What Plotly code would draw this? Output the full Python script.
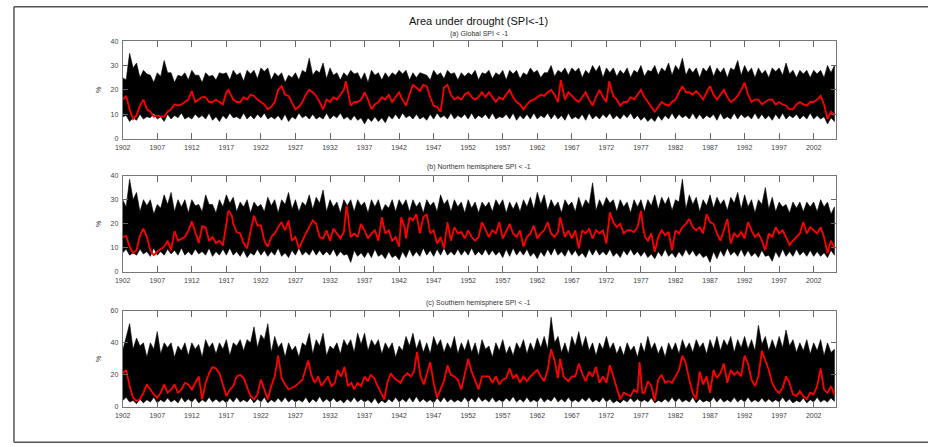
import plotly.graph_objects as go

# ---------------- data ----------------
YEARS = list(range(1902, 2006))                    # yearly extremes of the ensemble
HALF_YEARS = [y + 0.5 for y in range(1902, 2005)]  # envelope between the yearly extremes
XTICKS = list(range(1902, 2003, 5))

# Panel (a) global
upper_a = [25, 35, 31, 28, 26, 27, 32, 27, 26, 27,
           28, 26, 27, 26, 27, 27, 28, 27, 28, 28,
           29, 29, 27, 27, 26, 27, 28, 33, 28, 31,
           29, 27, 27, 28, 27, 27, 28, 27, 27, 27,
           28, 28, 27, 27, 26, 28, 27, 28, 27, 27,
           27, 28, 27, 28, 27, 28, 28, 28, 27, 29,
           28, 27, 30, 28, 29, 29, 29, 28, 30, 30,
           29, 29, 28, 29, 28, 30, 28, 30, 29, 31,
           30, 33, 29, 29, 29, 30, 29, 29, 29, 32,
           30, 29, 29, 28, 29, 29, 31, 28, 28, 28,
           28, 28, 30, 30]
upper_mid_a = [24, 29, 25, 26.5, 23, 25.5, 27, 23, 25.5, 24,
               26, 23, 25.5, 24, 26.5, 24, 26, 23.5, 26.5, 24.5,
               27.5, 24, 25.5, 23, 25, 24, 27, 26, 27, 24.5,
               26, 24, 25.5, 26.5, 24, 23, 26, 24, 25, 26,
               26.5, 24, 25, 26.5, 24, 26, 24.5, 26.5, 24, 25.5,
               26, 24, 26.5, 24.5, 26, 24, 26.5, 24.5, 26, 27,
               25, 27, 25.5, 27, 26, 27.5, 25, 26.5, 27.5, 25,
               27, 25.5, 26.5, 25, 27, 25.5, 27.5, 26, 27.5, 26,
               28, 26, 27, 25, 27.5, 25.5, 27, 25, 28, 26,
               27, 25, 26.5, 25, 27.5, 26, 26.5, 25, 26.5, 25,
               26.5, 25, 27]
lower_mid_a = [9.5, 8.5, 10, 9, 10.5, 9, 10, 9.5, 10.5, 9,
               10, 9.5, 10.5, 9, 9.5, 10.5, 9, 10.5, 9.5, 10,
               10.5, 9, 9.5, 10, 9, 10.5, 9.5, 10, 9, 10.5,
               9.5, 10.5, 9, 9.5, 8.5, 8.5, 9, 8.5, 9.5, 10,
               10.5, 9.5, 10, 9, 10, 10.5, 9.5, 10.5, 9.5, 10,
               10.5, 9.5, 10, 10.5, 9, 10, 10.5, 9.5, 10, 10.5,
               9.5, 10.5, 10, 9.5, 10.5, 9, 10, 10.5, 9.5, 10,
               10.5, 9.5, 10, 10.5, 9.5, 9, 8.5, 9.5, 9.5, 10.5,
               10, 9.5, 10.5, 10, 9.5, 10, 10.5, 9, 10.5, 10,
               9.5, 10.5, 10, 9.5, 10, 10.5, 9.5, 10, 9.5, 10.5,
               9.5, 9, 8.5]
lower_a = [9, 7, 7.5, 8, 8.5, 8, 7, 8, 8.5, 8,
           8, 8.5, 8, 7.5, 7, 8, 8.5, 8, 8, 8,
           8.5, 8, 8, 7.5, 7, 8, 8.5, 8, 8, 8,
           8, 8.5, 8, 7.5, 7.5, 6, 7, 7, 6.5, 8,
           8, 8.5, 8, 8, 7.5, 8, 8.5, 8, 8, 8.5,
           8, 8, 8.5, 8, 8, 8.5, 8, 7.5, 8, 8,
           8, 8.5, 8, 8, 7.5, 8, 8, 7.5, 8, 8,
           8.5, 8, 8, 8.5, 8, 7.5, 7, 7, 7.5, 8,
           8, 8.5, 8, 8, 8, 8.5, 7.5, 8, 8, 8,
           8.5, 8, 8, 8, 7.5, 8, 8, 8.5, 8, 8,
           8, 8, 6, 7]
red_a_x = [1902, 1902.5, 1903, 1903.5, 1904, 1904.5, 1905, 1905.5, 1906, 1906.5,
           1907, 1907.5, 1908, 1908.5, 1909, 1909.5, 1910, 1910.5, 1911, 1911.5,
           1912, 1912.5, 1913, 1913.5, 1914, 1914.5, 1915, 1915.5, 1916, 1916.5,
           1917, 1917.3, 1918, 1918.5, 1919, 1919.5, 1920, 1920.5, 1921, 1921.5,
           1922, 1922.5, 1923, 1923.5, 1924, 1924.5, 1925, 1925.5, 1926, 1926.5,
           1927, 1927.5, 1928, 1928.5, 1929, 1929.5, 1930, 1930.5, 1931, 1931.5,
           1932, 1932.5, 1933, 1933.5, 1934, 1934.3, 1935, 1935.5, 1936, 1936.5,
           1937, 1937.5, 1938, 1938.5, 1939, 1939.5, 1940, 1940.5, 1941, 1941.5,
           1942, 1942.5, 1943, 1943.5, 1944, 1944.5, 1945, 1945.5, 1946, 1946.5,
           1947, 1947.5, 1948, 1948.5, 1949, 1949.5, 1950, 1950.5, 1951, 1951.5,
           1952, 1952.5, 1953, 1953.5, 1954, 1954.5, 1955, 1955.5, 1956, 1956.5,
           1957, 1957.5, 1958, 1958.5, 1959, 1959.5, 1960, 1960.5, 1961, 1961.5,
           1962, 1962.5, 1963, 1963.5, 1964, 1964.5, 1965, 1965.4, 1966, 1966.5,
           1967, 1967.5, 1968, 1968.5, 1969, 1969.5, 1970, 1970.5, 1971, 1971.5,
           1972, 1972.4, 1973, 1973.5, 1974, 1974.5, 1975, 1975.5, 1976, 1976.5,
           1977, 1977.5, 1978, 1978.5, 1979, 1979.5, 1980, 1980.5, 1981, 1981.5,
           1982, 1982.5, 1983, 1983.5, 1984, 1984.5, 1985, 1985.5, 1986, 1986.5,
           1987, 1987.5, 1988, 1988.5, 1989, 1989.5, 1990, 1990.5, 1991, 1991.5,
           1992, 1992.5, 1993, 1993.5, 1994, 1994.5, 1995, 1995.5, 1996, 1996.5,
           1997, 1997.5, 1998, 1998.5, 1999, 1999.5, 2000, 2000.5, 2001, 2001.5,
           2002, 2002.5, 2003, 2003.5, 2004, 2004.5, 2005]
red_a_y = [16, 17.5, 12, 8, 9.5, 13.5, 16, 12, 11, 9,
           9.5, 9, 9, 11, 12, 14, 13.5, 14, 15, 16,
           19.5, 15, 16, 17, 17, 15, 15, 16, 15, 14,
           19, 20, 16, 15, 15, 17, 16, 18, 17.5, 16,
           15, 14, 12, 13, 15, 20, 21.5, 18, 17.5, 15,
           12, 13, 15, 18, 20, 19, 17.5, 15, 12, 16,
           15, 17, 16, 18, 20, 23.5, 13.5, 15, 15, 16,
           19, 16, 12, 14, 15, 17, 16, 18, 15, 17,
           19, 16, 13.5, 18, 22, 21, 19.5, 22, 21.5, 17,
           13.5, 13, 11, 21, 22, 18, 16, 17, 16, 18,
           19, 17, 16, 17, 19, 17, 19, 17, 15, 17,
           16, 18, 20, 17, 15, 14, 12, 14, 15.5, 16,
           17, 18, 17.5, 19, 20, 18, 15, 24, 16, 19,
           17.5, 16, 15, 17, 19, 16, 13.5, 17, 20, 17,
           15, 23.5, 17.5, 16, 13.5, 15, 15, 17, 16, 18,
           20, 17, 15, 13, 11, 13, 15, 14, 13.5, 15,
           16, 19, 21.5, 19, 19, 18, 19.5, 18, 16, 19,
           21.5, 18, 16, 18, 20, 17, 15, 16, 17.5, 20,
           23, 18, 15, 16, 16, 14, 15, 16, 16, 14,
           15, 14, 13.5, 12, 12, 14, 15, 14, 13.5, 15,
           15, 16, 17.5, 14, 8, 11, 9.5]

# Panel (b) northern hemisphere
upper_b = [30, 38.5, 33, 30, 30, 28, 32, 33, 30, 30,
           30, 28, 32, 28, 30, 32, 31, 29, 30, 29,
           28, 31, 30, 30, 33, 30, 29, 32, 31, 34,
           30, 29, 30, 30, 30, 29, 30, 30, 28, 30,
           30, 30, 30, 29, 30, 29, 32, 30, 30, 29,
           30, 29, 29, 29, 30, 30, 29, 29, 30, 31,
           33, 32, 30, 29, 30, 29, 31, 30, 37, 30,
           31, 30, 30, 29, 30, 30, 30, 32, 31, 31,
           30, 38.5, 32, 31, 30, 32, 31, 30, 31, 33,
           32, 30, 30, 35, 31, 29, 28, 29, 29, 29,
           29, 30, 29, 27]
upper_mid_b = [27, 30, 25, 27.5, 24, 26.5, 28, 25, 27, 24.5,
               27.5, 25, 28, 24.5, 27, 28.5, 25, 27, 24.5, 27,
               25, 27.5, 24.5, 28, 26, 25, 27.5, 26, 28.5, 25,
               27, 24.5, 27.5, 25, 27.5, 24.5, 27, 25, 26.5, 25,
               27.5, 25, 27, 24.5, 27.5, 25, 28, 25, 27, 24.5,
               26.5, 24.5, 27, 25, 27.5, 24.5, 26, 25, 27, 26,
               28, 25.5, 27, 24.5, 27.5, 25, 26.5, 28, 25.5, 27,
               28.5, 25, 27, 24.5, 27, 25, 27.5, 26, 28, 25.5,
               29, 26, 28, 25, 27.5, 26.5, 28, 25.5, 28.5, 26,
               27, 24.5, 28, 26, 25, 27, 24.5, 26.5, 25, 27,
               25, 27, 24]
lower_mid_b = [9.5, 8, 9.5, 8.5, 10, 8.5, 9.5, 9, 10, 8.5,
               9.5, 8.5, 10, 8.5, 9.5, 10, 8.5, 9, 8, 9.5,
               9, 8.5, 10, 8, 9, 10, 8.5, 9.5, 9, 8.5,
               9.5, 8.5, 7.5, 9, 8, 8.5, 9.5, 7.5, 8.5, 7,
               8.5, 9.5, 8.5, 10, 9, 9.5, 10, 8.5, 9.5, 9,
               10, 8.5, 9.5, 9, 8.5, 9.5, 10, 9, 9.5, 8,
               8.5, 9.5, 10, 8.5, 9.5, 9, 8, 9.5, 9.5, 8.5,
               9.5, 8, 9, 9.5, 8.5, 8.5, 7.5, 8.5, 9.5, 8,
               8.5, 9.5, 9, 8, 7, 8.5, 9, 10, 8.5, 9.5,
               9, 8, 9, 7, 8.5, 9.5, 8.5, 9.5, 8.5, 9,
               8.5, 8, 9]
lower_b = [8, 7, 7, 7.5, 6.5, 7, 7, 7.5, 7, 7,
           7, 7.5, 7, 6.5, 7, 7, 7, 6.5, 6, 7,
           7, 6.5, 7, 6.5, 6, 7, 7, 7, 7, 7,
           7, 6.5, 7, 4, 6.5, 6, 6, 6.5, 5.5, 6,
           5, 6, 6.5, 6.5, 7, 6.5, 7, 7, 7, 7,
           7, 7, 7, 7, 7, 6, 6.5, 7, 7, 6.5,
           5.5, 6.5, 7, 7, 6.5, 7, 6.5, 6, 7, 7,
           7, 6.5, 6, 7, 7, 6.5, 6, 5.5, 6.5, 6.5,
           6, 6.5, 7, 6.5, 6, 4, 5.5, 6.5, 7, 6.5,
           6.5, 6.5, 6, 6.5, 4.5, 6, 6.5, 6.5, 7, 6.5,
           6.5, 6.5, 6, 7]
red_b_x = [1902, 1902.5, 1903, 1903.5, 1904, 1904.5, 1905, 1905.5, 1906, 1906.5,
           1907, 1908, 1908.5, 1909, 1909.5, 1910, 1911, 1911.5, 1912, 1912.5,
           1913, 1913.5, 1914, 1914.5, 1915, 1915.5, 1916, 1916.5, 1917, 1917.3,
           1917.8, 1918, 1918.5, 1919, 1919.5, 1920, 1920.5, 1921, 1921.5, 1922,
           1922.5, 1923, 1923.5, 1924, 1924.5, 1925, 1925.5, 1926, 1926.5, 1927,
           1927.5, 1928, 1928.5, 1929, 1929.5, 1930, 1930.5, 1931, 1931.5, 1932,
           1932.5, 1933, 1933.5, 1934, 1934.4, 1935, 1935.5, 1936, 1936.5, 1937,
           1937.5, 1938, 1938.5, 1939, 1939.5, 1940, 1940.5, 1941, 1941.5, 1942,
           1942.3, 1942.8, 1943, 1943.5, 1944, 1944.5, 1945, 1945.5, 1946, 1946.5,
           1947, 1947.5, 1948, 1948.5, 1949, 1949.5, 1950, 1950.5, 1951, 1951.5,
           1952, 1952.5, 1953, 1953.5, 1954, 1955, 1955.5, 1956, 1956.5, 1957,
           1957.5, 1958, 1958.5, 1959, 1959.5, 1960, 1960.5, 1961, 1961.5, 1962,
           1962.5, 1963, 1963.5, 1964, 1964.5, 1965, 1965.3, 1966, 1966.5, 1967,
           1967.5, 1968, 1968.5, 1969, 1969.5, 1970, 1970.5, 1971, 1971.5, 1972,
           1972.5, 1973, 1973.5, 1974, 1974.5, 1975, 1975.5, 1976, 1976.5, 1977,
           1977.3, 1977.6, 1978, 1978.5, 1979, 1979.5, 1980, 1980.5, 1981, 1981.5,
           1982, 1982.5, 1983, 1983.5, 1984, 1984.5, 1985, 1985.5, 1986, 1986.5,
           1987, 1987.5, 1988, 1988.5, 1989, 1989.5, 1990, 1990.5, 1991, 1991.5,
           1992, 1992.5, 1993, 1993.5, 1994, 1994.5, 1995, 1995.5, 1996, 1996.5,
           1997, 1997.5, 1998, 1998.5, 1999, 1999.5, 2000, 2000.5, 2001, 2001.5,
           2002, 2002.5, 2003, 2003.5, 2004, 2004.5, 2005]
red_b_y = [14.5, 15, 10.5, 7.8, 9, 15, 18, 14.5, 9, 7,
           8.5, 10.5, 13, 9, 17, 13, 14.5, 17, 21, 16,
           12, 19, 18.5, 13, 14.5, 12, 13, 11, 20, 25.5,
           23.4, 20, 16.6, 16, 12, 9.8, 17, 23.4, 19.3, 19.3,
           13, 10.5, 14.5, 16, 18.6, 20.7, 17.3, 21.4, 13, 14.5,
           9.8, 13, 16, 18.6, 21.4, 20, 14.5, 13.9, 17.3, 13,
           18, 16, 13.9, 16.6, 27.5, 14.5, 16, 14.5, 20, 17.3,
           13.9, 16, 17.3, 13, 22.7, 16, 17.3, 13, 14.5, 10.5,
           22.7, 18.6, 13.9, 22.7, 21.4, 24, 16, 22.7, 24, 16,
           17.3, 11.8, 14.5, 9.8, 20.7, 13, 18.6, 16, 16.6, 13.9,
           17.3, 14.5, 13, 14.5, 20.7, 14.5, 17.3, 16, 20.7, 13.9,
           17.3, 20, 16, 14.5, 17.3, 10.5, 14.5, 16, 19.3, 13.9,
           16, 17.3, 20.7, 16, 14.5, 16.6, 22.7, 14.5, 17.3, 13.9,
           17.3, 9.8, 17.3, 16, 18, 13.9, 17.3, 16, 17.3, 11.8,
           24.8, 20.7, 18.6, 20, 16, 17.3, 17.3, 16.6, 18.6, 25.4,
           18.6, 14.5, 13, 16, 8.4, 14.5, 17.3, 15.2, 16.6, 9.1,
           17.3, 16, 18.6, 20, 22, 18.6, 17.3, 18.6, 16, 24,
           20.7, 20, 16, 13, 17.3, 22, 11.8, 16, 14.5, 16.6,
           13.9, 20.7, 17.3, 14.5, 16, 13, 9.1, 16, 14.5, 18.6,
           16, 17.3, 14.5, 11.2, 13, 14.5, 16, 20.7, 16, 18.6,
           17.3, 16, 18.6, 14.5, 7.8, 13, 9.8]

# Panel (c) southern hemisphere
upper_c = [35, 52, 43, 40, 40, 47, 40, 40, 38, 40,
           40, 39, 42, 40, 40, 42, 40, 42, 42, 50,
           45, 52, 44, 40, 40, 38, 40, 46, 42, 46,
           38, 40, 42, 42, 46, 46, 42, 42, 40, 40,
           38, 44, 46, 42, 40, 44, 42, 40, 44, 40,
           42, 40, 42, 38, 40, 42, 38, 40, 42, 40,
           43, 44, 56, 44, 40, 44, 47, 44, 40, 40,
           44, 40, 38, 40, 38, 40, 44, 40, 38, 40,
           40, 42, 40, 42, 40, 42, 44, 42, 44, 42,
           44, 42, 51, 44, 42, 44, 48, 42, 40, 42,
           40, 42, 40, 36]
upper_mid_c = [44, 36, 38, 31, 36, 33, 37, 31, 35, 32,
               36, 31, 37, 33, 36, 32, 38, 35, 40, 37,
               42, 34, 37, 31, 35, 31, 38, 33, 38, 32,
               36, 33, 38, 34, 39, 35, 38, 33, 36, 31,
               35, 38, 36, 34, 33, 38, 34, 36, 33, 35,
               34, 32, 36, 31, 35, 33, 32, 36, 33, 35,
               37, 36, 40, 34, 33, 38, 37, 35, 32, 36,
               36, 33, 32, 35, 31, 34, 36, 33, 31, 35,
               33, 36, 34, 37, 33, 36, 35, 38, 34, 37,
               36, 35, 39, 35, 36, 37, 38, 34, 35, 33,
               35, 32, 34]
lower_mid_c = [6, 4, 5, 4.5, 6, 4.5, 5.5, 4.5, 6, 5,
               5.5, 4.5, 6, 5, 4.5, 5.5, 6, 4.5, 5.5, 5,
               6, 4.5, 5.5, 6, 5, 4.5, 6, 5, 6.5, 5,
               5.5, 4.5, 5, 6, 5, 4.5, 5.5, 4, 5, 6,
               5, 6, 6.5, 5, 4.5, 5.5, 6, 5, 4.5, 6,
               5.5, 6.5, 5, 6, 4.5, 5.5, 6.5, 5, 6, 4.5,
               6, 5, 6.5, 5, 6, 4.5, 5.5, 6, 4.5, 6,
               5, 4, 4.5, 5.5, 5, 4.5, 5.5, 4, 5, 6,
               5.5, 4.5, 6, 5, 4, 6, 5.5, 4.5, 6, 5,
               6, 4.5, 5.5, 5, 4.5, 6, 5, 4, 5.5, 4.5,
               6, 4.5, 5.5]
lower_c = [4, 3, 2, 2.5, 3, 2.5, 3, 3, 2.5, 3,
           3, 2.5, 3, 3, 3, 2.5, 3, 3, 3, 2.5,
           3, 2.5, 3, 3, 3, 3, 3, 2.5, 3, 3,
           3, 3, 2.5, 3, 3, 3, 2.5, 2, 2.5, 3,
           3, 3, 3, 3, 3, 2.5, 3, 3, 3, 3,
           3, 3, 3.5, 3, 3, 3, 3.5, 3, 3, 3,
           3, 3, 3.5, 3, 3, 3, 3, 3.5, 3, 3,
           3, 2.5, 2.5, 3, 3, 3, 3, 2.5, 3, 3,
           3, 3, 3, 2.5, 3, 3, 3, 3, 3, 3,
           3, 3, 3, 3, 3, 3, 3, 2.5, 3, 2.5,
           3, 3, 3, 3.5]
red_c_x = [1902, 1902.5, 1903, 1903.5, 1904, 1904.5, 1905, 1905.5, 1906, 1906.5,
           1907, 1907.5, 1908, 1908.5, 1909, 1909.5, 1910, 1910.5, 1911, 1911.5,
           1912, 1912.5, 1913, 1913.5, 1914, 1914.5, 1915, 1915.5, 1916, 1916.5,
           1917, 1917.5, 1918, 1918.5, 1919, 1919.5, 1920, 1920.5, 1921, 1921.5,
           1922, 1922.5, 1923, 1923.5, 1924, 1924.5, 1925, 1925.5, 1926, 1927,
           1928, 1928.85, 1929.3, 1929.8, 1930.3, 1930.75, 1931.2, 1931.7, 1932.2, 1932.7,
           1933.1, 1933.6, 1934.1, 1934.6, 1935.1, 1935.5, 1936, 1936.5, 1937, 1937.45,
           1937.9, 1938.4, 1938.9, 1939.4, 1939.85, 1940.3, 1940.8, 1941.3, 1941.8, 1942.2,
           1942.7, 1943.2, 1943.7, 1944.15, 1944.6, 1945.1, 1945.6, 1946.1, 1946.5, 1947,
           1947.5, 1948, 1948.5, 1949, 1949.5, 1950, 1950.5, 1951, 1951.5, 1952,
           1952.5, 1953, 1953.5, 1954, 1955, 1955.5, 1956, 1956.5, 1957, 1957.5,
           1958, 1958.5, 1959, 1959.5, 1960, 1960.5, 1961, 1961.5, 1962, 1962.5,
           1963, 1963.5, 1964, 1964.5, 1965, 1965.3, 1965.8, 1966.5, 1967, 1967.5,
           1968, 1968.5, 1969, 1969.5, 1970, 1970.5, 1971, 1971.5, 1972, 1972.5,
           1973, 1973.5, 1974, 1974.5, 1975, 1975.5, 1976, 1976.5, 1976.8, 1977.2,
           1977.5, 1978, 1978.5, 1979, 1979.5, 1980, 1980.5, 1981, 1981.5, 1982,
           1982.5, 1983, 1983.5, 1984, 1984.5, 1985, 1985.5, 1986, 1986.5, 1987,
           1987.5, 1988, 1988.5, 1989, 1989.5, 1990, 1990.5, 1991, 1991.5, 1992,
           1992.5, 1993, 1993.5, 1994, 1994.5, 1995, 1995.5, 1996, 1996.5, 1997,
           1997.5, 1998, 1998.5, 1999, 1999.5, 2000, 2000.5, 2001, 2001.5, 2002,
           2002.5, 2003, 2003.5, 2004, 2004.5, 2005]
red_c_y = [21, 23, 13, 5.7, 3.7, 4.7, 8.8, 14, 10.9, 7.8,
           5.7, 8.8, 14, 8.8, 10.9, 14, 8.8, 10.9, 15, 14,
           10.9, 15, 19, 4.7, 15, 21, 25, 24, 21, 14,
           6.8, 10.9, 13, 19, 20, 18, 11.9, 6.8, 4.7, 7.8,
           17, 10.9, 4.7, 13, 19, 32, 18, 14, 10.9, 13,
           17, 29, 20, 15, 19, 13, 16, 19, 13, 15,
           23, 19, 25, 13, 15, 10.9, 15, 13, 19, 16,
           20, 18, 13, 8.8, 4.7, 15, 21, 18, 16, 15,
           19, 21, 19, 22, 34.4, 19, 14, 21, 28, 15,
           5.7, 10.9, 16, 26, 20, 19, 17, 10.9, 21, 30,
           22, 16, 10.9, 19, 19, 15, 19, 14, 17, 18,
           24, 18, 20, 15, 19, 16, 19, 21, 23, 19,
           16, 23, 36, 29, 18, 30, 19, 16, 19, 19,
           27, 21, 16, 22, 19, 25, 15, 19, 15, 26,
           19, 10.8, 4.7, 8.8, 7.8, 6.7, 10.8, 8.8, 28, 8.8,
           8.8, 16, 13, 3.7, 17, 20, 15, 16, 15, 19,
           23, 32, 27, 17, 8.8, 4.7, 22, 14, 19, 8.8,
           23, 18, 21, 27, 15, 23, 20, 22, 19, 32,
           27, 17, 13, 19, 35, 29, 23, 15, 10.8, 8.8,
           11.8, 19, 15, 7.8, 6.7, 9.8, 6.7, 4.7, 8.8, 7.8,
           13, 24, 10.8, 8.8, 13, 7.8]

PANELS = [
    dict(title="(a) Global SPI < -1", upper=upper_a, upper_mid=upper_mid_a, lower=lower_a,
         lower_mid=lower_mid_a, red_x=red_a_x, red_y=red_a_y, yr=[0, 40], yticks=[0, 10, 20, 30, 40]),
    dict(title="(b) Northern hemisphere SPI < -1", upper=upper_b, upper_mid=upper_mid_b, lower=lower_b,
         lower_mid=lower_mid_b, red_x=red_b_x, red_y=red_b_y, yr=[0, 40], yticks=[0, 10, 20, 30, 40]),
    dict(title="(c) Southern hemisphere SPI < -1", upper=upper_c, upper_mid=upper_mid_c, lower=lower_c,
         lower_mid=lower_mid_c, red_x=red_c_x, red_y=red_c_y, yr=[0, 60], yticks=[0, 20, 40, 60]),
]
TITLE = "Area under drought (SPI<-1)"

# ---------------- layout geometry (pixels) ----------------
W, H = 928, 447
X_LEFT, X_RIGHT = 115.7, 835.7
PANEL_PX = [(37.7, 136.7), (174.3, 272.3), (311.7, 409.3)]
SUB_Y = [30, 165.7, 303.3]
FONT = "Liberation Sans, Arial, sans-serif"


def py(v):
    return 1 - v / H


def interleave(a_x, a_y, b_x, b_y):
    xs, ys = [], []
    for i in range(len(a_x)):
        xs.append(a_x[i]); ys.append(a_y[i])
        if i < len(b_x):
            xs.append(b_x[i]); ys.append(b_y[i])
    return xs, ys


fig = go.Figure()
layout = dict(
    width=W, height=H, margin=dict(l=0, r=0, t=0, b=0),
    paper_bgcolor="white", plot_bgcolor="white", showlegend=False,
    font=dict(family=FONT, size=7, color="#404040"),
)
annotations = [dict(text=TITLE, x=474.6 / W, y=py(17.5), xref="paper", yref="paper",
                    showarrow=False, xanchor="center", yanchor="middle",
                    font=dict(size=11, color="#111", family=FONT))]

for i, p in enumerate(PANELS):
    n = "" if i == 0 else str(i + 1)
    xa, ya = "x" + n, "y" + n
    tx, ty = interleave(YEARS, p["upper"], HALF_YEARS, p["upper_mid"])
    bx, by = interleave(YEARS, p["lower"], HALF_YEARS, p["lower_mid"])
    fig.add_trace(go.Scatter(x=tx + bx[::-1], y=ty + by[::-1],
                             xaxis=xa, yaxis=ya, mode="lines", fill="toself",
                             fillcolor="#000", line=dict(color="#000", width=0.6),
                             hoverinfo="skip"))
    fig.add_trace(go.Scatter(x=p["red_x"], y=p["red_y"], xaxis=xa, yaxis=ya, mode="lines",
                             line=dict(color="#ff0000", width=1.8)))
    top, bot = PANEL_PX[i]
    layout["xaxis" + n] = dict(
        domain=[X_LEFT / W, X_RIGHT / W], anchor=ya, range=[1902, 2005.3],
        tickvals=XTICKS, ticktext=[str(t) for t in XTICKS], ticks="inside", ticklen=6,
        tickcolor="#666", showline=True, linecolor="#777", linewidth=1, mirror="ticks",
        showgrid=False, zeroline=False, tickfont=dict(size=7, color="#404040"),
        ticklabelstandoff=2,
    )
    layout["yaxis" + n] = dict(
        domain=[py(bot), py(top)], anchor=xa, range=p["yr"], tickvals=p["yticks"],
        ticks="inside", ticklen=5, tickcolor="#666", showline=True, linecolor="#777",
        linewidth=1, mirror="ticks", showgrid=False, zeroline=False,
        tickfont=dict(size=7, color="#404040"), ticklabelstandoff=2,
    )
    annotations.append(dict(text=p["title"], x=474.6 / W, y=py(SUB_Y[i]), xref="paper",
                            yref="paper", showarrow=False, xanchor="center", yanchor="middle",
                            font=dict(size=7, color="#333", family=FONT)))
    annotations.append(dict(text="%", x=92 / W, y=py((top + bot) / 2), xref="paper",
                            yref="paper", showarrow=False, textangle=-90,
                            xanchor="center", yanchor="middle",
                            font=dict(size=7, color="#404040", family=FONT)))

layout["annotations"] = annotations
# frame: left, top and bottom edges only (open on the right, as in the reference)
border = dict(type="line", xref="paper", yref="paper", line=dict(color="#555", width=1.5))
layout["shapes"] = [
    dict(border, x0=6 / W, x1=1, y0=py(2.7), y1=py(2.7)),
    dict(border, x0=6 / W, x1=1, y0=py(445.3), y1=py(445.3)),
    dict(border, x0=6 / W, x1=6 / W, y0=py(2.7), y1=py(445.3)),
]
fig.update_layout(**layout)
fig.write_html("out.html", config={"displayModeBar": False},
               post_script="document.body.style.margin='0';document.body.style.overflow='hidden';")
